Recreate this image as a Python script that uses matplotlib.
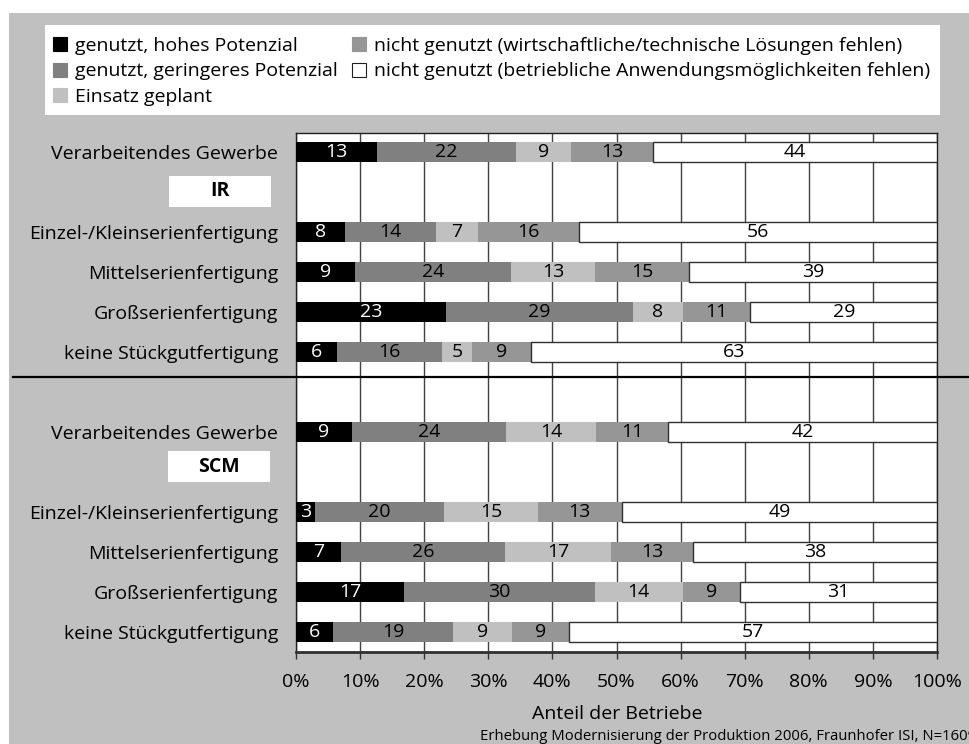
import matplotlib
matplotlib.use("Agg")
import matplotlib.pyplot as plt
from matplotlib.patches import Rectangle, Patch
from matplotlib.lines import Line2D

plt.rcParams['font.family'] = ['Open Sans', 'DejaVu Sans']

# ---------------- data ----------------
rows = ["Verarbeitendes Gewerbe", "Einzel-/Kleinserienfertigung",
        "Mittelserienfertigung", "Großserienfertigung", "keine Stückgutfertigung"]
groups = ["IR", "SCM"]
series = ["genutzt, hohes Potenzial",
          "genutzt, geringeres Potenzial",
          "Einsatz geplant",
          "nicht genutzt (wirtschaftliche/technische Lösungen fehlen)",
          "nicht genutzt (betriebliche Anwendungsmöglichkeiten fehlen)"]

hoch_ir    = [12.7, 7.6, 9.2, 23.4, 6.4]
gering_ir  = [21.6, 14.2, 24.4, 29.2, 16.4]
geplant_ir = [8.6, 6.6, 13.1, 7.7, 4.6]
tech_ir    = [12.8, 15.8, 14.6, 10.6, 9.2]
betr_ir    = [44.3, 55.8, 38.7, 29.1, 63.4]

hoch_scm    = [8.7, 3.0, 7.0, 16.9, 5.8]
gering_scm  = [24.1, 20.1, 25.6, 29.7, 18.7]
geplant_scm = [14.0, 14.6, 16.6, 13.7, 9.2]
tech_scm    = [11.3, 13.1, 12.8, 9.0, 8.9]
betr_scm    = [41.9, 49.2, 38.0, 30.7, 57.4]

xticklabels = ["0%", "10%", "20%", "30%", "40%", "50%", "60%", "70%", "80%", "90%", "100%"]
xlabel = "Anteil der Betriebe"
source = "Erhebung Modernisierung der Produktion 2006, Fraunhofer ISI, N=1609"

# ---------------- style ----------------
colors = ["#000000", "#808080", "#c0c0c0", "#969696", "#ffffff"]
text_colors = ["white", "black", "black", "black", "black"]
FS = 14
W, H = 969, 744

data = {
    "IR": [hoch_ir, gering_ir, geplant_ir, tech_ir, betr_ir],
    "SCM": [hoch_scm, gering_scm, geplant_scm, tech_scm, betr_scm],
}

fig = plt.figure(figsize=(W / 100, H / 100), dpi=100, facecolor="white")
# gray background area (white strip on top and left)
fig.patches.append(Rectangle((9 / W, 0), 1, 1 - 13 / H, transform=fig.transFigure,
                             facecolor="#c0c0c0", edgecolor="none", zorder=-10))

ax = fig.add_axes([296 / W, 1 - 652 / H, (937 - 296) / W, (652 - 133) / H])
ax.set_facecolor("white")

slot_in_group = [0, 2, 3, 4, 5]
group_step = 7
bar_h = 0.51

ypos_all, ylabels_all = [], []
for gi, g in enumerate(groups):
    vals = data[g]
    for ri, r in enumerate(rows):
        y = gi * group_step + slot_in_group[ri]
        ypos_all.append(y)
        ylabels_all.append(r)
        left = 0
        for si in range(len(series)):
            v = vals[si][ri]
            ec = "#303030" if si == 4 else "none"
            ax.barh(y, v, left=left, height=bar_h, color=colors[si],
                    edgecolor=ec, linewidth=1, zorder=3)
            ax.text(left + v / 2, y, f"{v:.0f}", ha="center", va="center",
                    color=text_colors[si], fontsize=FS, zorder=4)
            left += v

ax.set_xlim(0, 100)
ax.set_ylim(12.5, -0.48)
ax.set_xticks(range(0, 101, 10))
ax.set_xticklabels(xticklabels, fontsize=FS)
ax.set_yticks(ypos_all)
ax.set_yticklabels(ylabels_all, fontsize=FS)
ax.tick_params(axis="y", length=0, pad=13)
ax.tick_params(axis="x", direction="out", length=5, width=1, color="#303030", pad=10)
ax.xaxis.grid(True, color="#404040", linewidth=1)
ax.set_axisbelow(True)
for s in ax.spines.values():
    s.set_color("#202020")
    s.set_linewidth(1)
ax.spines["bottom"].set_linewidth(2)
ax.spines["bottom"].set_color("#303030")

# group labels boxes
for (g, cx, cy) in [("IR", 220, 191), ("SCM", 218.5, 466.5)]:
    fig.patches.append(Rectangle(((cx - 51) / W, 1 - (cy + 15.5) / H), 102 / W, 31 / H,
                                 transform=fig.transFigure, facecolor="white",
                                 edgecolor="none", zorder=1))
    fig.text(cx / W, 1 - cy / H, g, ha="center", va="center", fontsize=FS,
             fontweight="bold", zorder=2)

# separator line
fig.add_artist(Line2D([13 / W, 1], [1 - 377 / H, 1 - 377 / H], transform=fig.transFigure,
                      color="black", linewidth=1.6, zorder=5))

# legend box
fig.patches.append(Rectangle((45 / W, 1 - 115 / H), (940 - 45) / W, 90 / H,
                             transform=fig.transFigure, facecolor="white",
                             edgecolor="none", zorder=1))
handles = [Patch(facecolor=c, edgecolor=("#202020" if c == "#ffffff" else c), linewidth=0.8)
           for c in colors]
leg = fig.legend(handles, series, loc="upper left", bbox_to_anchor=(53 / W, 1 - 37 / H),
                 ncol=2, frameon=False, fontsize=FS, handlelength=0.72, handleheight=0.72,
                 handletextpad=0.4, columnspacing=0.75, labelspacing=0.38,
                 borderpad=0, borderaxespad=0)
leg.set_zorder(3)

fig.text(617 / W, 1 - 714 / H, xlabel, ha="center", va="center", fontsize=FS)
fig.text(480 / W, 1 - 737 / H, source, ha="left", va="center", fontsize=10.7)

fig.savefig("out.png", dpi=100, facecolor=fig.get_facecolor())
